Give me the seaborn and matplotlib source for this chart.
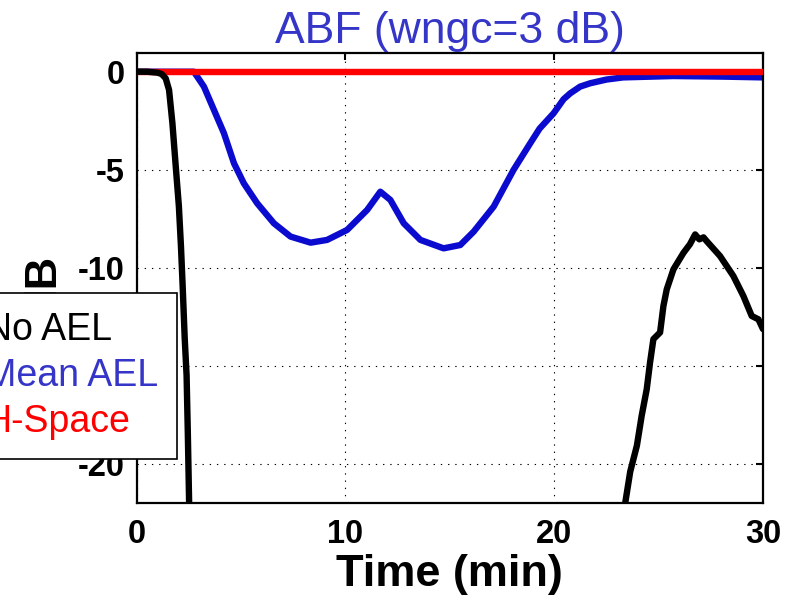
import matplotlib
matplotlib.use("Agg")
import matplotlib.pyplot as plt
import seaborn as sns
import numpy as np
import pandas as pd

# ---------------- data ----------------
series_labels = ["No AEL", "Mean AEL", "H-Space"]

noael_t = [0, 0.5, 1.0, 1.2, 1.39, 1.55, 1.71, 1.87, 2.02, 2.12, 2.2, 2.3, 2.39,
           2.45, 2.52, 2.65, 22.3, 23.4, 23.64, 23.96, 24.19, 24.43, 24.59,
           24.75, 25.07, 25.23, 25.39, 25.71, 26.19, 26.5, 26.75, 26.95, 27.15,
           27.3, 27.94, 28.58, 29.06, 29.46, 29.78, 30.0]
noael_db = [0, 0, -0.05, -0.12, -0.34, -0.93, -2.62, -4.83, -6.86, -8.9, -10.9,
            -13.6, -15.5, -18.5, -22.5, -30, -30, -22.0, -20.4, -19.07, -17.54,
            -16.2, -14.83, -13.64, -13.3, -11.95, -11.1, -10.08, -9.24, -8.8,
            -8.3, -8.55, -8.45, -8.64, -9.4, -10.42, -11.44, -12.46, -12.63, -13.13]

mean_t = [0, 1.0, 2.0, 2.74, 3.22, 3.70, 4.18, 4.66, 5.13, 5.77, 6.57, 7.37, 8.33,
          9.12, 10.08, 11.04, 11.67, 12.15, 12.79, 13.59, 14.70, 15.50, 16.14,
          17.10, 18.05, 18.85, 19.3, 19.97, 20.45, 20.77, 21.24, 21.72, 22.5,
          23.3, 25.7, 28.1, 30.0]
mean_db = [0, 0, 0, 0, -0.76, -1.95, -3.14, -4.67, -5.69, -6.71, -7.73, -8.41,
           -8.72, -8.58, -8.07, -7.05, -6.12, -6.54, -7.73, -8.58, -9.01, -8.84,
           -8.16, -6.88, -5.01, -3.65, -2.9, -2.12, -1.4, -1.1, -0.76, -0.59,
           -0.4, -0.29, -0.22, -0.25, -0.29]

free_t = [0, 10, 20, 30]
free_db = [0, 0, 0, 0]

x_ticks = [0, 10, 20, 30]
y_ticks = [0, -5, -10, -15, -20]

title_text = "ABF (wngc=3 dB)"
x_label = "Time (min)"
y_label = "dB"

# ---------------- style ----------------
sns.set_style("white")
plt.rcParams["font.family"] = ["Liberation Sans", "DejaVu Sans"]
plt.rcParams["axes.unicode_minus"] = False
plt.rcParams["text.color"] = "black"
plt.rcParams["axes.labelcolor"] = "black"

line_black = "#000000"
line_blue = "#0b0bd0"
line_red = "#ff0000"
text_blue = "#3535c8"

fig = plt.figure(figsize=(7.97, 6.11), dpi=100)
W, H = 797, 611
ax_l, ax_r, ax_t, ax_b = 136.7, 763.0, 52.7, 503.0
ax = fig.add_axes([ax_l / W, (H - ax_b) / H, (ax_r - ax_l) / W, (ax_b - ax_t) / H])

df_mean = pd.DataFrame({"t": mean_t, "db": mean_db})
df_free = pd.DataFrame({"t": free_t, "db": free_db})
df_no = pd.DataFrame({"t": noael_t, "db": noael_db})

sns.lineplot(data=df_mean, x="t", y="db", ax=ax, color=line_blue, lw=4.6,
             estimator=None, sort=False, zorder=2)
sns.lineplot(data=df_free, x="t", y="db", ax=ax, color=line_red, lw=4.6,
             estimator=None, sort=False, zorder=3)
sns.lineplot(data=df_no, x="t", y="db", ax=ax, color=line_black, lw=4.6,
             estimator=None, sort=False, zorder=4)

ax.set_xlim(0, 30)
ax.set_ylim(-22, 0.97)
ax.set_xticks(x_ticks)
ax.set_yticks(y_ticks)
ax.set_xticklabels([str(v) for v in x_ticks], fontweight="bold")
ax.set_yticklabels([str(v) for v in y_ticks], fontweight="bold")

ax.tick_params(axis="both", direction="in", length=5, width=1.5, colors="black",
               top=True, right=True, labelsize=23.5)
ax.tick_params(axis="x", pad=11.5)
ax.tick_params(axis="y", pad=8.4)

for s in ax.spines.values():
    s.set_visible(True)
    s.set_color("black")
    s.set_linewidth(1.6)

ax.set_axisbelow(True)
ax.grid(True, color="black", linestyle=(0, (1.2, 5.3)), linewidth=0.8)

ax.set_title(title_text, fontsize=32, color=text_blue, pad=7)
ax.set_xlabel(x_label, fontsize=32.5, fontweight="bold", labelpad=3, color="black")
ax.set_ylabel(y_label, fontsize=32.5, fontweight="bold", color="black")
ax.yaxis.set_label_coords(-0.116, 0.484)

handles = ax.get_lines()
h_no = handles[2]
h_mean = handles[0]
h_free = handles[1]
leg = ax.legend([h_no, h_mean, h_free], series_labels, loc="upper right",
                bbox_to_anchor=(177 / W, 1 - 293 / H), bbox_transform=fig.transFigure,
                borderaxespad=0, borderpad=0.5, labelspacing=0.27,
                fontsize=27, fancybox=False, framealpha=1, edgecolor="black",
                handlelength=2.0, handletextpad=0.8)
leg.get_frame().set_linewidth(1.2)
for txt, c in zip(leg.get_texts(), [line_black, text_blue, line_red]):
    txt.set_color(c)

fig.savefig("out.png", dpi=100)
